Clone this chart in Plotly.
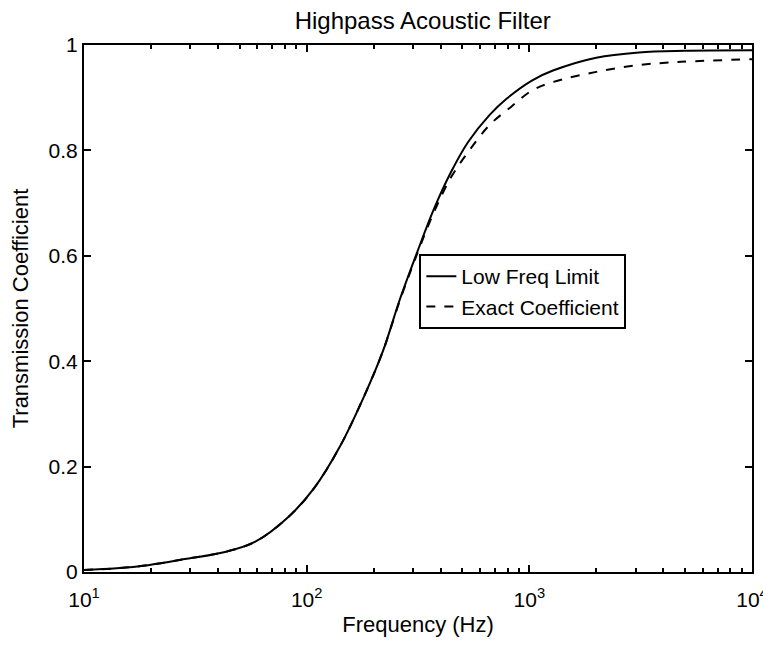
import plotly.graph_objects as go

# Low-frequency-limit curve (solid)
freq_low = [10, 14, 19.4, 28.9, 43, 58.5, 83, 108, 141, 184, 220, 262, 313, 373, 445, 531, 662, 790, 1031, 1285, 1997, 3105, 5000, 10000]
trans_low = [0.004, 0.007, 0.013, 0.025, 0.038, 0.057, 0.105, 0.159, 0.238, 0.34, 0.419, 0.517, 0.606, 0.689, 0.759, 0.816, 0.867, 0.898, 0.933, 0.952, 0.976, 0.986, 0.989, 0.99]

# Exact coefficient curve (dashed)
freq_exact = [10, 14, 19.4, 28.9, 43, 58.5, 83, 108, 141, 184, 220, 262, 313, 373, 445, 531, 662, 830, 1031, 1285, 1997, 3105, 4800, 10000]
trans_exact = [0.004, 0.007, 0.013, 0.025, 0.038, 0.057, 0.105, 0.159, 0.238, 0.34, 0.419, 0.515, 0.603, 0.683, 0.749, 0.797, 0.848, 0.883, 0.914, 0.930, 0.949, 0.962, 0.968, 0.973]

x_ticks = [10, 100, 1000, 10000]
x_ticktext = ["10<sup>1</sup>", "10<sup>2</sup>", "10<sup>3</sup>", "10<sup>4</sup>"]
x_minor = [m * 10 ** e for e in range(1, 4) for m in range(2, 10)]
y_ticks = [0, 0.2, 0.4, 0.6, 0.8, 1]
y_ticktext = ["0", "0.2", "0.4", "0.6", "0.8", "1"]

FONT = "Liberation Sans, Arial, Helvetica, sans-serif"

fig = go.Figure()
fig.add_trace(go.Scatter(x=freq_low, y=trans_low, mode="lines", name="Low Freq Limit",
                         line=dict(color="black", width=2, dash="solid", shape="spline")))
fig.add_trace(go.Scatter(x=freq_exact, y=trans_exact, mode="lines", name="Exact Coefficient",
                         line=dict(color="black", width=2, dash="dash", shape="spline")))

fig.update_layout(
    width=763, height=647,
    margin=dict(l=84, r=11, t=45, b=75, autoexpand=False),
    paper_bgcolor="white", plot_bgcolor="white",
    font=dict(family=FONT, size=21, color="black"),
    title=dict(text="Highpass Acoustic Filter", x=0.554, xanchor="center", y=0.968, yanchor="middle",
               font=dict(family=FONT, size=24, color="black")),
    showlegend=True,
    legend=dict(x=0.502, y=0.6034, xanchor="left", yanchor="top",
                bgcolor="white", bordercolor="black", borderwidth=2,
                font=dict(family=FONT, size=21, color="black"),
                tracegroupgap=0, itemwidth=30),
)
fig.update_xaxes(
    type="log", range=[0.99999, 4.00001], automargin=False,
    tickmode="array", tickvals=x_ticks, ticktext=x_ticktext,
    ticks="inside", ticklen=7, tickwidth=1.5, tickcolor="black",
    ticklabeloverflow="allow", ticklabelstandoff=8,
    minor=dict(tickmode="array", tickvals=x_minor, ticks="inside", ticklen=4, tickwidth=1.5, tickcolor="black"),
    showline=True, linecolor="black", linewidth=2, mirror="ticks",
    showgrid=False, zeroline=False,
    tickfont=dict(family=FONT, size=21),
    title=dict(text="Frequency (Hz)", font=dict(family=FONT, size=22), standoff=6),
)
fig.update_yaxes(
    range=[0, 1], automargin=False,
    tickmode="array", tickvals=y_ticks, ticktext=y_ticktext,
    ticks="inside", ticklen=7, tickwidth=1.5, tickcolor="black",
    showline=True, linecolor="black", linewidth=2, mirror="ticks",
    showgrid=False, zeroline=False,
    tickfont=dict(family=FONT, size=21),
    title=dict(text="Transmission Coefficient", font=dict(family=FONT, size=22), standoff=14),
)

fig.write_html("out.html")
